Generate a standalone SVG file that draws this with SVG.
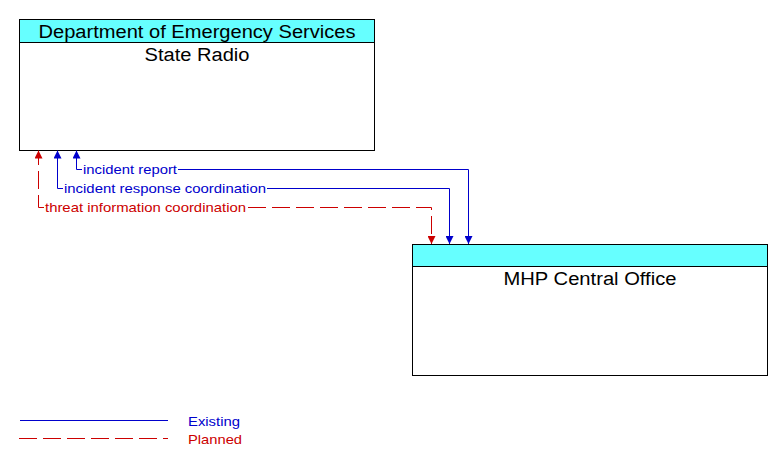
<svg xmlns="http://www.w3.org/2000/svg" width="783" height="467" viewBox="0 0 783 467">
<style>
.box{fill:#fff;stroke:#000;stroke-width:1}
.hdr{fill:#66ffff;stroke:#000;stroke-width:1}
.t{font-family:"Liberation Sans",Arial,sans-serif;fill:#000;font-size:18px;text-anchor:middle}
.lbl{font-family:"Liberation Sans",Arial,sans-serif;font-size:13px}
.ex{stroke:#0000cc;fill:none;stroke-width:1}
.pl{stroke:#cc0000;fill:none;stroke-width:1;stroke-dasharray:18 6}
.bg{fill:#fff}
</style>
<defs>
<marker id="ab" viewBox="0 0 8 8" refX="8" refY="4" markerWidth="8" markerHeight="8" markerUnits="userSpaceOnUse" orient="auto-start-reverse"><path d="M0,0 L8,4 L0,8 z" fill="#0000cc"/></marker>
<marker id="ar" viewBox="0 0 8 8" refX="8" refY="4" markerWidth="8" markerHeight="8" markerUnits="userSpaceOnUse" orient="auto-start-reverse"><path d="M0,0 L8,4 L0,8 z" fill="#cc0000"/></marker>
</defs>
<g id="state-radio">
<rect class="box" x="19.5" y="19.5" width="355" height="131"/>
<rect class="hdr" x="19.5" y="19.5" width="355" height="23"/>
<text class="t" x="197" y="37.5" textLength="317" lengthAdjust="spacingAndGlyphs">Department of Emergency Services</text>
<text class="t" x="197" y="61" textLength="105" lengthAdjust="spacingAndGlyphs">State Radio</text>
</g>
<g id="mhp-central-office">
<rect class="box" x="412.5" y="244.5" width="355" height="131"/>
<rect class="hdr" x="412.5" y="244.5" width="355" height="22"/>
<text class="t" x="590" y="285" textLength="173" lengthAdjust="spacingAndGlyphs">MHP Central Office</text>
</g>
<g id="connectors">
<path class="ex" d="M468.5,244 V169.5 H76.5 V150.5" marker-start="url(#ab)" marker-end="url(#ab)"/>
<path class="ex" d="M449.5,244 V188.5 H57.5 V150.5" marker-start="url(#ab)" marker-end="url(#ab)"/>
<path class="pl" d="M248,207.5 H431.5 V244" marker-end="url(#ar)"/>
<path class="pl" d="M44,207.5 H38.5 V150.5" marker-end="url(#ar)"/>
<rect class="bg" x="82" y="162" width="96" height="14"/>
<rect class="bg" x="63" y="181" width="204" height="14"/>
<text class="lbl" x="83" y="174" fill="#0000cc" textLength="94" lengthAdjust="spacingAndGlyphs">incident report</text>
<text class="lbl" x="64" y="193" fill="#0000cc" textLength="202" lengthAdjust="spacingAndGlyphs">incident response coordination</text>
<text class="lbl" x="45" y="212" fill="#cc0000" textLength="201" lengthAdjust="spacingAndGlyphs">threat information coordination</text>
</g>
<g id="legend">
<line class="ex" x1="20" y1="420.5" x2="168" y2="420.5"/>
<line class="pl" x1="19" y1="438.5" x2="168" y2="438.5"/>
<text class="lbl" x="188" y="426" fill="#0000cc" textLength="52" lengthAdjust="spacingAndGlyphs">Existing</text>
<text class="lbl" x="188" y="444" fill="#cc0000" textLength="54" lengthAdjust="spacingAndGlyphs">Planned</text>
</g>
</svg>
